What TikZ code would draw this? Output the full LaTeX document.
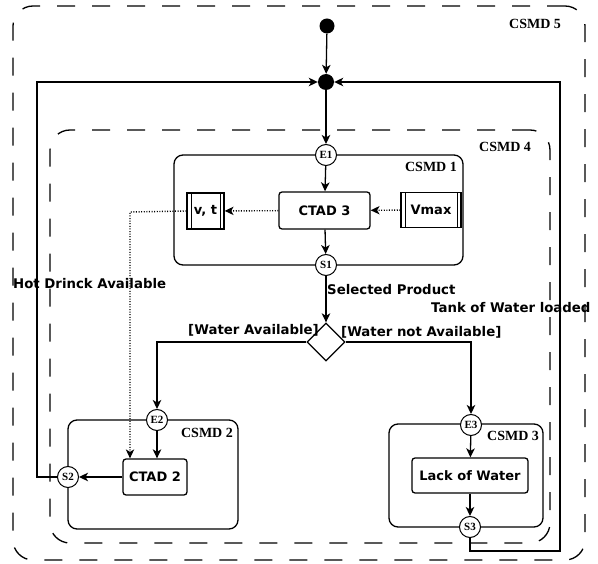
\documentclass[tikz,border=0pt]{standalone}
\usepackage{fontspec}
\newfontfamily\labelfont{DejaVu Sans}
\newfontfamily\titlefont{Liberation Serif}
\usetikzlibrary{arrows.meta,shapes.geometric}

\tikzset{
  ln/.style={line width=1.3pt},
  flow/.style={ln, -{Stealth[length=9pt,width=8.5pt,inset=2.5pt]}},
  dotflow/.style={line width=1.4pt, dash pattern=on 1pt off 1.6pt,
    -{Stealth[length=9pt,width=8.5pt,inset=2.5pt,line width=0pt]}},
  frame/.style={draw, ln, dash pattern=on 18pt off 17pt, rounded corners=20pt,
    inner sep=0pt, rectangle},
  container/.style={draw, ln, rounded corners=9pt, inner sep=0pt, rectangle},
  act/.style={draw, ln, rounded corners=3pt, inner sep=0pt, rectangle,
    font=\labelfont\bfseries\fontsize{13}{15}\selectfont},
  datab/.style={draw, ln, inner sep=0pt, rectangle,
    font=\labelfont\bfseries\fontsize{13}{15}\selectfont,
    path picture={
      \draw[line width=1pt] ([xshift=4pt]path picture bounding box.north west) -- ([xshift=4pt]path picture bounding box.south west);
      \draw[line width=1pt] ([xshift=-4pt]path picture bounding box.north east) -- ([xshift=-4pt]path picture bounding box.south east);}},
  port/.style={circle, draw, line width=1pt, fill=white, minimum size=21pt, inner sep=0pt,
    font=\titlefont\bfseries\fontsize{11}{11}\selectfont},
  dot/.style={circle, fill=black, inner sep=0pt},
  title/.style={font=\titlefont\bfseries\fontsize{14}{15}\selectfont, inner sep=0pt},
  lbl/.style={font=\labelfont\bfseries\fontsize{13.3}{15}\selectfont, inner sep=0pt},
  choice/.style={diamond, draw, ln, fill=white, minimum size=38pt, inner sep=0pt}
}

\begin{document}
\begin{tikzpicture}[x=1pt,y=-1pt]
\useasboundingbox (0,0) rectangle (598,564);

% nested composite states
\node[frame, minimum width=572pt, minimum height=554pt] (csmd5) at (299,283) {};
\node[frame, minimum width=500pt, minimum height=413pt] (csmd4) at (300,336.5) {};
\node[container, minimum width=289pt, minimum height=110pt] (csmd1) at (318.5,210) {};
\node[container, minimum width=170pt, minimum height=109pt] (csmd2) at (153,474.5) {};
\node[container, minimum width=154pt, minimum height=103pt] (csmd3) at (466,475.5) {};

\node[title] (t5) at (535,24) {CSMD 5};
\node[title] (t4) at (505,147) {CSMD 4};
\node[title] (t1) at (431,167) {CSMD 1};
\node[title] (t2) at (207,433) {CSMD 2};
\node[title] (t3) at (513,436) {CSMD 3};

% initial and junction points
\node[dot, minimum size=15pt] (start) at (327,26) {};
\node[dot, minimum size=16pt] (j) at (326,82) {};

% activities and data
\node[act, minimum width=91pt, minimum height=37pt] (ctad3) at (324.5,210.5) {CTAD 3};
\node[datab, minimum width=37pt, minimum height=36pt] (vt) at (205.5,211) {v, t};
\node[datab, minimum width=60pt, minimum height=35pt] (vmax) at (431,210) {Vmax};
\node[act, minimum width=64pt, minimum height=36pt] (ctad2) at (155,477) {CTAD 2};
\node[act, minimum width=116pt, minimum height=35pt] (low) at (470,475.5) {Lack of Water};

% entry / exit points
\node[port] (e1) at (326,155) {E1};
\node[port] (s1) at (326,265) {S1};
\node[port] (e2) at (157,420) {E2};
\node[port] (s2) at (68,477) {S2};
\node[port] (e3) at (471,425) {E3};
\node[port] (s3) at (470,527) {S3};

\node[choice] (d) at (326,342) {};

% control flow
\draw[flow] (start) -- (j);
\draw[flow] (j) -- (e1);
\draw[flow] (e1) -- (ctad3);
\draw[flow] (ctad3) -- (s1);
\draw[flow] (s1) -- (d.north);
\draw[flow] (d.west) -| (e2);
\draw[flow] (d.east) -| (e3);
\draw[flow] (e2) -- (e2 |- ctad2.north);
\draw[flow] (ctad2) -- (s2);
\draw[flow] (e3) -- (low);
\draw[flow] (low) -- (s3);

\coordinate (loopL) at (37,477);
\coordinate (loopR) at (560,551);
\draw[flow] (s2) -- (loopL) |- (j);
\draw[flow] (s3) |- (loopR) |- (j);

% data flow
\draw[dotflow] (vmax) -- (ctad3);
\draw[dotflow] (ctad3) -- (vt);
\coordinate (dl) at (130,212);
\draw[dotflow] (vt.west) -- (dl) -- (dl |- ctad2.north);

% transition labels
\node[lbl, anchor=west] (hot) at (13,284) {Hot Drinck Available};
\node[lbl, anchor=west] (sel) at (327,290) {Selected Product};
\node[lbl, anchor=west] (tank) at (431,308) {Tank of Water loaded};
\node[lbl, anchor=east] (wa) at (319,330) {[Water Available]};
\node[lbl, anchor=west] (wna) at (341,332) {[Water not Available]};
\end{tikzpicture}
\end{document}
